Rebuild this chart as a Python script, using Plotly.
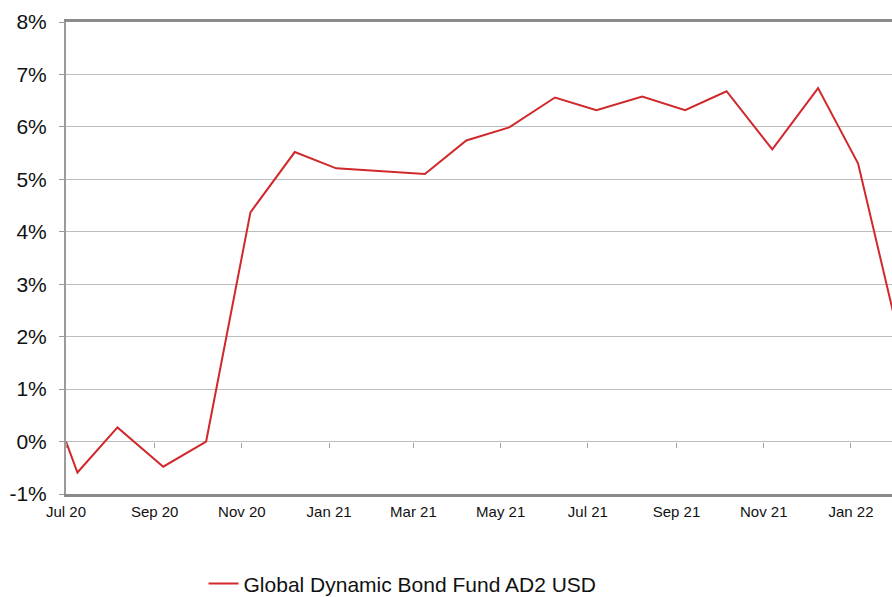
import plotly.graph_objects as go

dates = ["2020-07-01", "2020-07-09", "2020-08-06", "2020-09-07", "2020-10-07",
         "2020-11-07", "2020-12-08", "2021-01-06", "2021-03-09", "2021-04-07",
         "2021-05-07", "2021-06-08", "2021-07-07", "2021-08-08", "2021-09-07",
         "2021-10-06", "2021-11-07", "2021-12-09", "2022-01-06", "2022-02-07"]
values = [0.00, -0.59, 0.27, -0.48, 0.00,
          4.37, 5.52, 5.21, 5.10, 5.74,
          5.99, 6.56, 6.32, 6.58, 6.32,
          6.68, 5.57, 6.74, 5.30, 1.60]
series_name = "Global Dynamic Bond Fund AD2 USD"
y_tickvals = [8, 7, 6, 5, 4, 3, 2, 1, 0, -1]
y_ticktext = ["8%", "7%", "6%", "5%", "4%", "3%", "2%", "1%", "0%", "-1%"]

RED = "#d0282b"
x_range = ["2020-07-01", "2022-01-29 17:00"]

fig = go.Figure()
fig.add_trace(go.Scatter(x=dates, y=values, mode="lines", name=series_name,
                         line=dict(color=RED, width=2)))
# invisible copy to carry the tick-mark axis drawn on the 0% line
fig.add_trace(go.Scatter(x=dates, y=values, mode="lines", xaxis="x2",
                         line=dict(color="rgba(0,0,0,0)", width=0),
                         showlegend=False, hoverinfo="skip"))

fig.update_layout(
    width=892, height=597,
    margin=dict(l=66, r=0, t=22, b=103, autoexpand=False),
    paper_bgcolor="white", plot_bgcolor="white",
    font=dict(family="Liberation Sans, Arial, sans-serif", color="#111111"),
    showlegend=True,
    legend=dict(orientation="h", x=0.1665, y=-0.147, xanchor="left", yanchor="top",
                font=dict(size=21, color="#111111"), bgcolor="rgba(0,0,0,0)"),
    xaxis=dict(type="date", range=x_range, tickmode="linear", tick0="2020-07-01",
               dtick="M2", tickformat="%b %y", ticks="", showgrid=False,
               showline=True, linecolor="#8a8a8a", linewidth=3, mirror=True,
               ticklabelstandoff=2,
               tickfont=dict(size=15, color="#111111"), zeroline=False),
    xaxis2=dict(type="date", range=x_range, overlaying="x", anchor="free",
                position=1/9, tickmode="linear", tick0="2020-07-01", dtick="M2",
                ticks="outside", ticklen=5, tickcolor="#a0a0a0", tickwidth=1,
                showticklabels=False, showgrid=False, showline=False, zeroline=False),
    yaxis=dict(range=[-1, 8], tickmode="array", tickvals=y_tickvals, ticktext=y_ticktext,
               showgrid=True, gridcolor="#bdbdbd", gridwidth=1, zeroline=False,
               showline=True, linecolor="#9a9a9a", linewidth=2,
               ticks="outside", ticklen=5, tickcolor="#9a9a9a",
               ticklabelstandoff=8,
               tickfont=dict(size=21, color="#111111")),
)

fig.write_html("out.html", config={"displayModeBar": False},
               post_script="document.body.style.margin='0';")
